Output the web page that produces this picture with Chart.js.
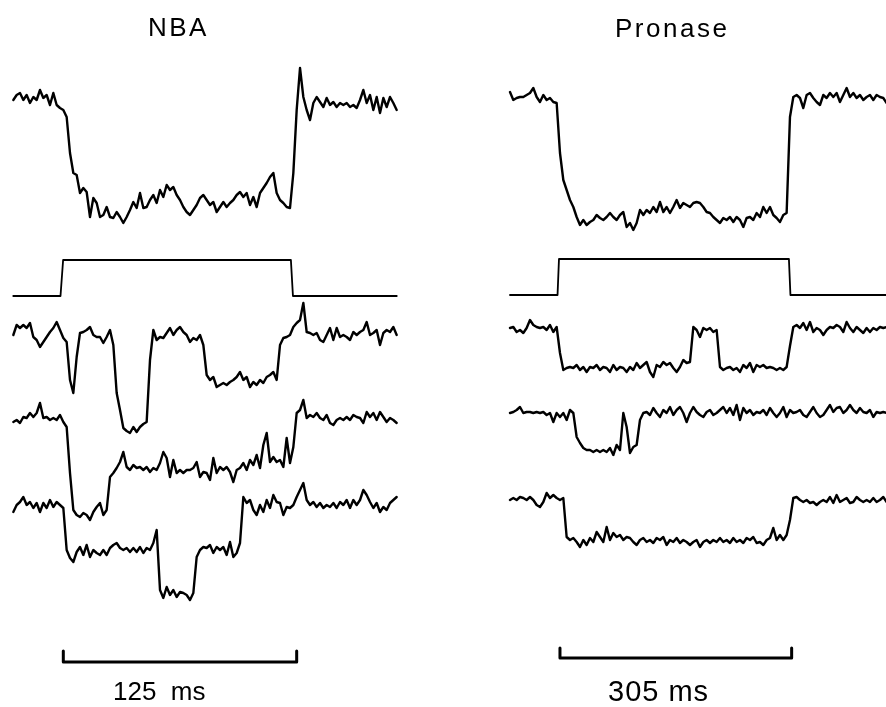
<!DOCTYPE html>
<html><head><meta charset="utf-8">
<script src="https://cdn.jsdelivr.net/npm/chart.js@4/dist/chart.umd.min.js"></script>
<style>
html,body{margin:0;padding:0;background:#fff;width:886px;height:707px;overflow:hidden}
.panel{position:absolute;top:0;width:443px;height:707px}
.lbl{position:absolute;font-family:"Liberation Sans",Arial,sans-serif;color:#000;white-space:pre;line-height:26px;font-size:26px}
</style></head><body>
<div class="panel" style="left:0"><canvas id="cL" width="443" height="707"></canvas></div>
<div class="panel" style="left:443px"><canvas id="cR" width="443" height="707"></canvas></div>
<div class="lbl" id="titleL" style="left:148px;top:14px;letter-spacing:2.5px"></div>
<div class="lbl" id="titleR" style="left:615px;top:15px;letter-spacing:2.5px"></div>
<div class="lbl" id="barL" style="left:113px;top:678px"></div>
<div class="lbl" id="barR" style="left:608px;top:677px;font-size:29px;line-height:29px;letter-spacing:1px"></div>
<script>
// ---------- data (current in arbitrary units relative to closed level; time in ms from pulse onset) ----------
const panelTitles = ["NBA", "Pronase"];
const scaleBarMs = [125, 305];
const scaleBarLabels = ["125  ms", "305 ms"];

const nbaStartMs = -26.07, nbaSampleMs = 1.7855;
const pronaseStartMs = -63.6, pronaseSampleMs = 4.388;

const nbaAverage = [0,5,7,0,5,-3,3,0,10,2, 5,-5,7,-5,-8,-10,-17,-53,-73,-75,
 -93,-88,-92,-117,-98,-103,-117,-115,-107,-117, -118,-112,-117,-123,-117,-110,-102,-108,-93,-108,
 -107,-100,-95,-103,-90,-97,-85,-90,-87,-95, -100,-107,-112,-115,-110,-105,-98,-95,-100,-105,
 -102,-112,-107,-102,-107,-103,-100,-95,-92,-97, -93,-105,-97,-107,-93,-88,-83,-77,-73,-93,
 -100,-103,-107,-108,-73,-10,32,3,-10,-20, -3,3,-2,-7,2,-5,-2,-7,-3,-5,
 -3,-7,-5,-8,0,10,-3,5,-10,3, -13,2,-7,3,-3,-10];
const nbaSweep1 = [0,10,7,10,7,12,-2,-5,-12,-7, -2,3,7,13,5,-3,-7,-45,-58,-22,
 2,3,5,8,0,-2,-2,-8,-2,5, -10,-58,-75,-93,-96,-98,-92,-97,-92,-89,
 -87,-25,5,-5,-2,-3,2,7,0,5, 8,3,0,-7,-3,-5,0,-10,-40,-45,
 -42,-52,-50,-48,-50,-47,-45,-42,-37,-45, -42,-52,-47,-50,-45,-48,-42,-40,-37,-45,
 -10,-3,-2,0,8,12,15,32,3,2, 0,2,-5,-7,0,7,-5,7,-2,0,
 -2,-5,3,0,3,5,13,0,2,5, -10,2,5,3,8,0];
const nbaSweep2 = [-4,-2,-5,1,0,5,1,5,15,0, 1,-2,0,-2,3,-4,-9,-55,-92,-97,
 -99,-95,-97,-102,-94,-89,-85,-97,-92,-59, -55,-50,-44,-34,-49,-52,-47,-50,-49,-52,
 -49,-54,-50,-52,-45,-34,-40,-59,-42,-55, -52,-55,-52,-52,-50,-44,-59,-54,-55,-62,
 -40,-55,-49,-52,-49,-54,-64,-52,-50,-45, -52,-42,-47,-37,-50,-27,-15,-44,-39,-44,
 -42,-49,-20,-45,-29,5,8,18,0,3, 1,5,0,-2,3,-5,-7,-2,0,-2,
 1,-2,3,1,0,-5,6,1,5,-2, 6,1,-4,0,-2,-5];
const nbaSweep3 = [-7,0,3,8,0,3,-3,2,-7,2, -3,5,-2,3,0,-3,-45,-53,-57,-47,
 -42,-50,-40,-52,-45,-48,-50,-45,-50,-43, -40,-38,-43,-45,-43,-47,-43,-47,-42,-48,
 -43,-45,-38,-25,-85,-93,-82,-90,-85,-92, -87,-88,-90,-95,-88,-52,-45,-42,-43,-40,
 -48,-42,-45,-42,-50,-37,-52,-48,-38,8, 2,5,-5,-10,0,-7,5,-3,10,3,
 2,-10,-2,-3,0,8,15,22,5,0, 3,-2,2,-3,0,-2,2,-3,3,0,
 5,-3,5,0,5,15,10,3,-3,2, -7,-2,-5,2,5,8];

const pronaseAverage = [5,-3,-1,0,0,2,4,9,0,-5, 2,-3,-1,-5,-6,-56,-83,-93,-103,-110,
 -120,-128,-123,-128,-125,-123,-118,-121,-123,-120, -116,-120,-123,-118,-115,-130,-126,-133,-126,-113,
 -118,-113,-116,-110,-115,-105,-115,-110,-116,-110, -103,-111,-106,-108,-110,-106,-105,-106,-110,-115,
 -116,-120,-123,-126,-121,-123,-120,-125,-120,-123, -130,-121,-120,-123,-116,-120,-110,-116,-110,-118,
 -121,-125,-118,-116,-20,0,2,-1,-11,2, 4,-1,-5,-8,2,-1,4,0,4,-5,
 2,9,0,4,-1,2,-3,0,2,-3, 2,0,-1,-6];
const pronaseSweep1 = [0,1,-4,-2,-5,0,8,3,1,0, 1,-2,3,-4,1,-25,-42,-40,-39,-40,
 -37,-42,-39,-44,-39,-40,-37,-42,-39,-40, -44,-37,-42,-39,-40,-44,-39,-42,-35,-40,
 -37,-34,-44,-49,-37,-39,-34,-37,-35,-40, -44,-39,-32,-35,-34,1,-2,-9,0,-2,
 0,-4,-2,-39,-42,-40,-39,-42,-40,-44, -37,-40,-35,-44,-37,-39,-37,-40,-39,-40,
 -42,-40,-42,-39,-18,1,3,0,5,-2, 6,-4,0,-2,-7,-2,1,0,3,1,
 -4,6,0,-4,1,-2,-5,0,-4,0, -2,1,0,1];
const pronaseSweep2 = [-1,0,2,5,-1,0,0,-1,0,-1, 0,-3,-1,-10,-1,-5,-1,-8,2,-1,
 -25,-31,-36,-38,-38,-40,-38,-40,-38,-40, -36,-43,-33,-38,-1,-15,-41,-35,-33,-8,
 -1,0,-3,4,-1,-5,2,-1,5,-3, 2,5,-1,-10,-1,5,0,-3,-5,0,
 2,-3,-1,2,5,-1,4,-3,7,-8, 4,-1,2,-3,0,-1,2,-3,4,-1,
 -5,-1,5,-5,2,-1,0,2,-3,-5, 0,5,-1,-5,-3,2,7,0,4,5,
 -1,2,7,2,-1,4,0,-1,2,-5, 0,-1,0,-1];
const pronaseSweep3 = [0,2,0,3,2,0,3,0,-5,-7, -2,7,2,5,2,0,2,-37,-40,-38,
 -42,-47,-40,-45,-38,-42,-32,-37,-42,-27, -40,-33,-37,-35,-40,-37,-38,-42,-45,-40,
 -38,-42,-40,-43,-38,-40,-37,-45,-40,-42, -38,-43,-40,-42,-45,-42,-40,-47,-42,-40,
 -43,-40,-42,-38,-42,-40,-43,-38,-42,-40, -43,-38,-40,-37,-43,-42,-45,-40,-38,-28,
 -40,-35,-40,-35,-20,2,3,0,-2,0, -3,-2,-5,-2,0,-2,3,-3,5,-2,
 0,2,-3,-2,3,0,-2,0,-2,2, -2,0,3,-2];

// voltage command (normalized: 0 = holding, 1 = test pulse)
const nbaPulseMs = [-26.1, -0.8, 0.6, 122.6, 123.7, 179.3];
const nbaPulseLevel = [0, 0, 1, 1, 0, 0];
const pronasePulseMs = [-63.6, -1.0, 0.9, 303.6, 305.6, 432.2];
const pronasePulseLevel = [0, 0, 1, 1, 0, 0];

// ---------- layout (positions / sizes only) ----------
const layoutL = { pxPerMs: 1.867, zeroPx: 62, width: 443,
  traceBase: [100, 335, 418, 505], pulseBase: 296, pulseHeight: 36,
  barStartMs: 0.7, barRow: 662, barTick: 11 };
const layoutR = { pxPerMs: 0.7596, zeroPx: 115.3, width: 443,
  traceBase: [97, 328, 412, 500], pulseBase: 295, pulseHeight: 36,
  barStartMs: 2.2, barRow: 658, barTick: 10 };

function series(values, start, step, base) {
  return values.map((v, i) => ({ x: start + i * step, y: base - v }));
}
function pulse(ts, lv, lay) {
  return ts.map((t, i) => ({ x: t, y: lay.pulseBase - lv[i] * lay.pulseHeight }));
}
function bar(len, lay) {
  const s = lay.barStartMs, e = lay.barStartMs + len;
  return [{x: s, y: lay.barRow - lay.barTick}, {x: s, y: lay.barRow},
          {x: e, y: lay.barRow}, {x: e, y: lay.barRow - lay.barTick}];
}
function ds(data, w) {
  return { data, borderColor: '#000', borderWidth: w, pointRadius: 0, tension: 0,
           fill: false, borderJoinStyle: 'round', borderCapStyle: 'round', clip: false };
}
function makeChart(id, lay, traces, start, step, pts, lv, barLen) {
  const datasets = traces.map((tr, k) => ds(series(tr, start, step, lay.traceBase[k]), 2.4));
  datasets.push(ds(pulse(pts, lv, lay), 1.8));
  datasets.push(ds(bar(barLen, lay), 3));
  new Chart(document.getElementById(id), {
    type: 'line',
    data: { datasets },
    options: {
      responsive: false, animation: false, devicePixelRatio: 1,
      layout: { padding: 0 },
      plugins: { legend: { display: false }, tooltip: { enabled: false }, title: { display: false } },
      scales: {
        x: { type: 'linear', display: false, min: -lay.zeroPx / lay.pxPerMs, max: (lay.width - lay.zeroPx) / lay.pxPerMs },
        y: { type: 'linear', display: false, min: 0, max: 707, reverse: true }
      }
    }
  });
}
makeChart('cL', layoutL, [nbaAverage, nbaSweep1, nbaSweep2, nbaSweep3], nbaStartMs, nbaSampleMs,
  nbaPulseMs, nbaPulseLevel, scaleBarMs[0]);
makeChart('cR', layoutR, [pronaseAverage, pronaseSweep1, pronaseSweep2, pronaseSweep3], pronaseStartMs, pronaseSampleMs,
  pronasePulseMs, pronasePulseLevel, scaleBarMs[1]);

document.getElementById('titleL').textContent = panelTitles[0];
document.getElementById('titleR').textContent = panelTitles[1];
document.getElementById('barL').textContent = scaleBarLabels[0];
document.getElementById('barR').textContent = scaleBarLabels[1];
</script>
</body></html>
